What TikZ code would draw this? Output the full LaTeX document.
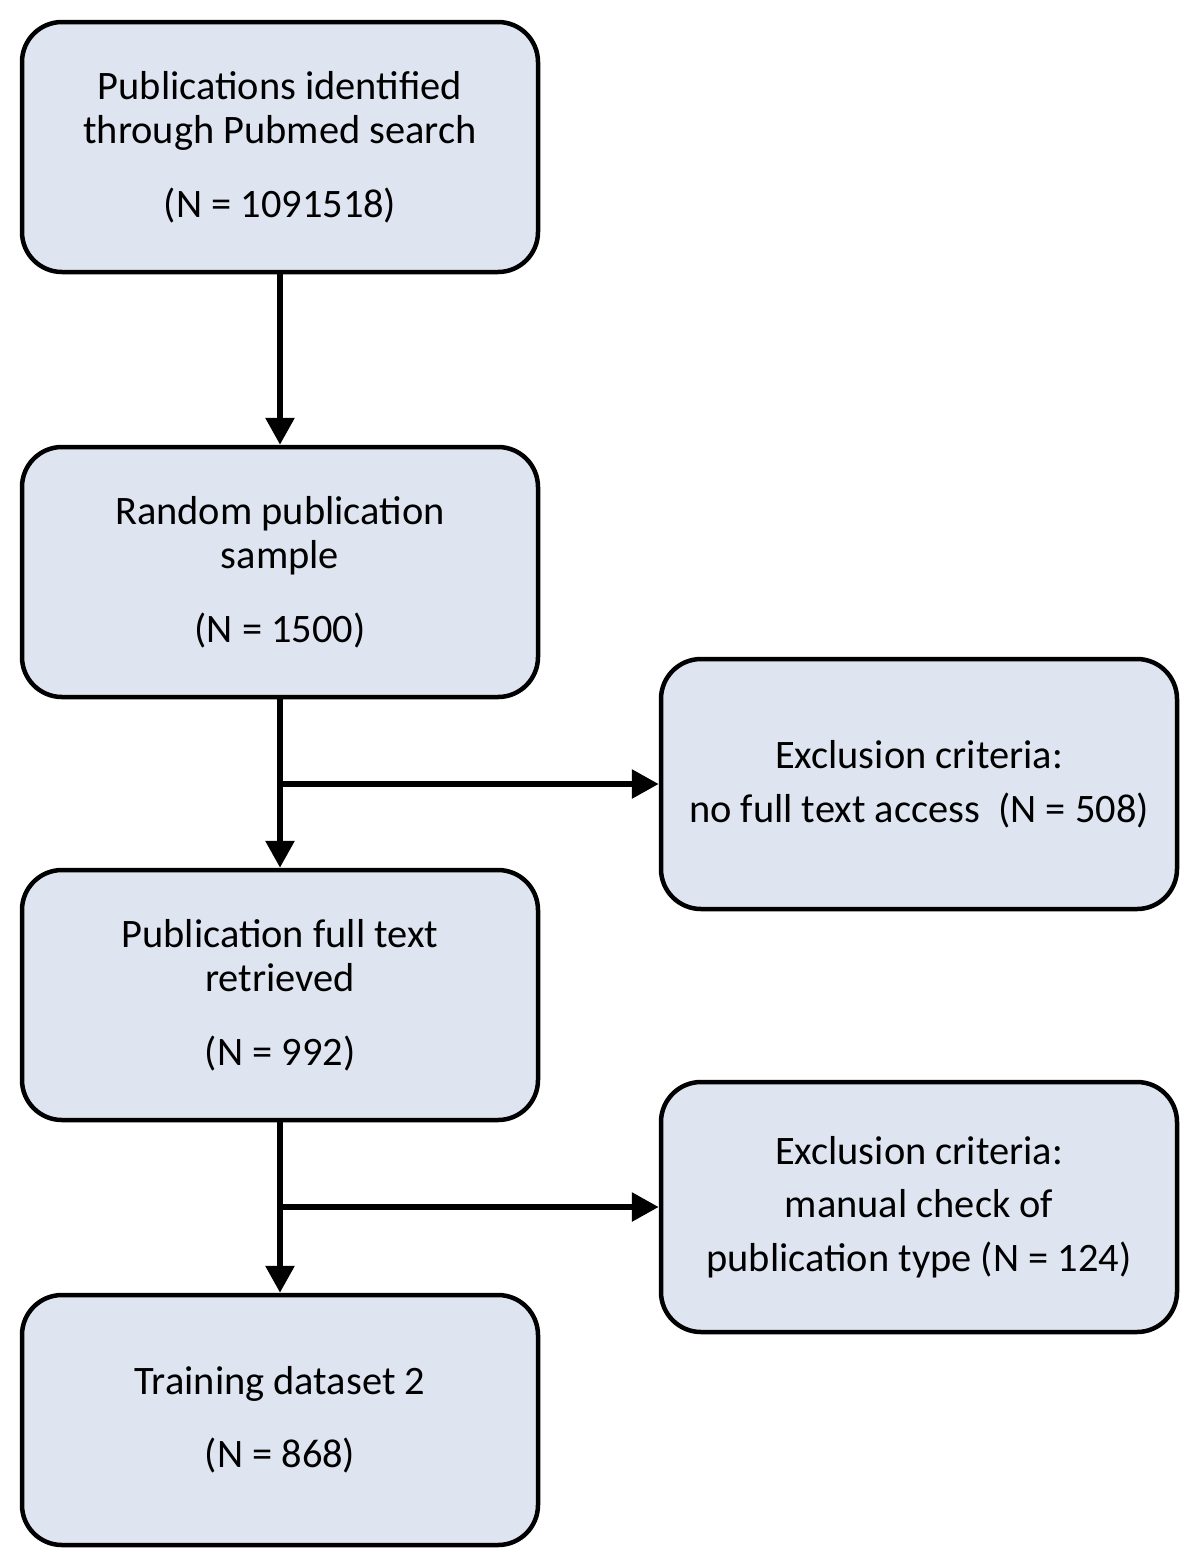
\documentclass[tikz,border=0pt]{standalone}
\usepackage{fontspec}
\setmainfont{Carlito}
\usetikzlibrary{positioning,arrows.meta}
\definecolor{boxfill}{RGB}{222,229,241}

\begin{document}
\begin{tikzpicture}[node distance=8.5cm,on grid,
    stage/.style={draw,line width=0.09cm,rounded corners=0.8cm,fill=boxfill,
        minimum width=10.32cm,minimum height=5cm,align=center,
        font=\fontsize{23}{25}\selectfont},
    excl/.style={stage,font=\fontsize{23}{30.5}\selectfont},
    flow/.style={-{Triangle[width=0.56cm,length=0.54cm]},line width=0.12cm}]
    \useasboundingbox (0,0) rectangle (24,-31.34);
    \node[stage] (search) at (5.6,-2.94) {Publications identified\\ through Pubmed search\\[0.6cm] (N = 1091518)};
    \node[stage] (sample) [below=of search] {Random publication\\ sample\\[0.6cm] (N = 1500)};
    \node[stage] (fulltext) [below=8.46cm of sample] {Publication full text\\ retrieved\\[0.6cm] (N = 992)};
    \node[stage] (dataset) [below=of fulltext] {Training dataset 2\\[0.58cm] (N = 868)};
    \node[excl] (noaccess) [below right=4.24cm and 12.78cm of sample] {Exclusion criteria:\\ no full text access~ (N = 508)};
    \node[excl] (pubtype) [below right=4.24cm and 12.78cm of fulltext] {Exclusion criteria:\\ manual check of\\ publication type (N = 124)};
    \coordinate (split1) at (sample.south |- noaccess.west);
    \coordinate (split2) at (fulltext.south |- pubtype.west);
    \draw[flow] (search) -- (sample);
    \draw[flow] (sample) -- (fulltext);
    \draw[flow] (fulltext) -- (dataset);
    \draw[flow] (split1) -- (noaccess);
    \draw[flow] (split2) -- (pubtype);
\end{tikzpicture}
\end{document}
